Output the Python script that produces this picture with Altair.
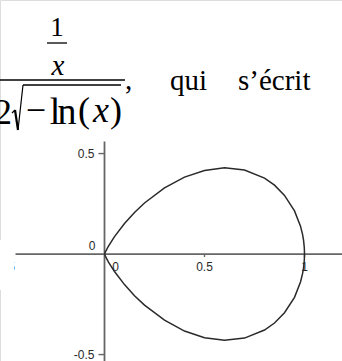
import altair as alt
import pandas as pd

# Upper half of the loop y = x*sqrt(-ln x) read at sample abscissas; the lower half mirrors it
x_pts = [0, 0.005, 0.01, 0.02, 0.05, 0.1, 0.15, 0.2, 0.3, 0.4, 0.5, 0.6, 0.7,
         0.8, 0.85, 0.9, 0.95, 0.98, 0.99, 0.995, 0.999, 1.0]
y_upper = [0, 0.012, 0.021, 0.040, 0.087, 0.152, 0.207, 0.254, 0.329, 0.383, 0.416,
           0.429, 0.418, 0.378, 0.343, 0.292, 0.215, 0.139, 0.099, 0.071, 0.032, 0]

x_ticks = [-0.5, 0.5, 1]
x_tick_labels = ["-0.5", "0.5", "1"]
y_ticks = [-0.5, 0.5]
y_tick_labels = ["-0.5", "0.5"]

# closed path: upper branch left to right, then lower branch back
curve = pd.DataFrame({
    "x": x_pts + x_pts[::-1][1:],
    "y": y_upper + [-v for v in y_upper[::-1][1:]],
})
curve["order"] = range(len(curve))

W, H = 342, 361
xs = alt.Scale(domain=[-0.5225, 1.1875], nice=False, zero=False)
ys = alt.Scale(domain=[-0.532, 1.264], nice=False, zero=False)

AXIS_COL = "#666666"
LAB_COL = "#2a2a2a"
SANS = "Liberation Sans"
SERIF = "Liberation Serif"


def X(field):
    return alt.X(field, type="quantitative", scale=xs, axis=None)


def Y(field):
    return alt.Y(field, type="quantitative", scale=ys, axis=None)


# coordinate axes crossing at the origin
x_axis = alt.Chart(pd.DataFrame({"a": [-0.445], "b": [1.1875], "y": [0]})).mark_rule(
    color=AXIS_COL, strokeWidth=1.8).encode(x=X("a"), x2="b", y=Y("y"))
y_axis = alt.Chart(pd.DataFrame({"x": [0], "a": [-0.532], "b": [0.56]})).mark_rule(
    color=AXIS_COL, strokeWidth=1.8).encode(x=X("x"), y=Y("a"), y2="b")

xt = pd.DataFrame({"v": x_ticks, "lab": x_tick_labels, "z": 0, "z2": -0.015})
yt = pd.DataFrame({"v": y_ticks, "lab": y_tick_labels, "z": -0.03, "z2": 0})

x_tick_marks = alt.Chart(xt).mark_rule(color=AXIS_COL, strokeWidth=1.4).encode(
    x=X("v"), y=Y("z"), y2="z2")
y_tick_marks = alt.Chart(yt).mark_rule(color=AXIS_COL, strokeWidth=1.4).encode(
    y=Y("v"), x=X("z"), x2="z2")

LAB = dict(font=SANS, fontSize=12, color=LAB_COL, baseline="middle")

x_labels = alt.Chart(xt).mark_text(align="center", dy=13, **LAB).encode(
    x=X("v"), y=Y("z"), text="lab:N")
y_labels = alt.Chart(yt).mark_text(align="right", dx=-10, **LAB).encode(
    y=Y("v"), x=X("z2"), text="lab:N")

zero_df = pd.DataFrame({"x": [0], "y": [0], "t": ["0"]})
zero_x = alt.Chart(zero_df).mark_text(align="center", dx=11, dy=13, **LAB).encode(
    x=X("x"), y=Y("y"), text="t:N")
zero_y = alt.Chart(zero_df).mark_text(align="right", dx=-9, dy=-8, **LAB).encode(
    x=X("x"), y=Y("y"), text="t:N")

# cut-off left edge of the figure
edge = alt.Chart(zero_df).mark_rect(color="white").encode(
    x=alt.value(0), x2=alt.value(14), y=alt.value(240), y2=alt.value(290))

loop = alt.Chart(curve).mark_line(color="#2a2a2a", strokeWidth=1.5).encode(
    x=X("x"), y=Y("y"), order="order:Q")


# typeset fraction above the figure
def txt(s, x, y, size, align="center", italic=False):
    return alt.Chart(zero_df).mark_text(
        text=s, font=SERIF, fontSize=size, color="black", align=align,
        baseline="alphabetic", fontStyle="italic" if italic else "normal"
    ).encode(x=alt.value(x), y=alt.value(y))


def seg(x1, y1, x2, y2, w=1.4):
    return alt.Chart(zero_df).mark_rule(color="black", strokeWidth=w).encode(
        x=alt.value(x1), y=alt.value(y1), x2=alt.value(x2), y2=alt.value(y2))


formula = [
    txt("1", 57, 36, 27),
    seg(47, 43, 67, 43, 1.3),
    txt("x", 58, 75, 29, italic=True),
    seg(0, 80, 125, 80, 1.6),
    txt("2", 12, 124, 36, align="right"),
    seg(12, 113, 15, 110, 1.2),
    seg(15, 110, 18, 130, 2.2),
    seg(18, 130, 23, 85, 1.2),
    seg(23, 85, 121, 85, 1.4),
    txt("\u2212", 36, 122, 36),
    txt("l", 55, 124, 38),
    txt("n", 67, 124, 38),
    txt("(", 84, 122, 36),
    txt("x", 101, 122, 36, italic=True),
    txt(")", 116, 122, 36),
    txt(",", 125, 89, 29, align="left"),
    txt("qui", 170, 90, 29, align="left"),
    txt("s\u2019\u00e9crit", 238, 90, 29, align="left"),
]

chart = alt.layer(
    x_axis, y_axis, x_tick_marks, y_tick_marks, x_labels, y_labels, zero_x, zero_y,
    edge, loop, *formula
).properties(
    width=W, height=H, padding=0, autosize=alt.AutoSizeParams(type="none")
).configure_view(stroke=None).configure(background="white")

chart.save("out.html", embed_options={"renderer": "svg", "actions": False})
